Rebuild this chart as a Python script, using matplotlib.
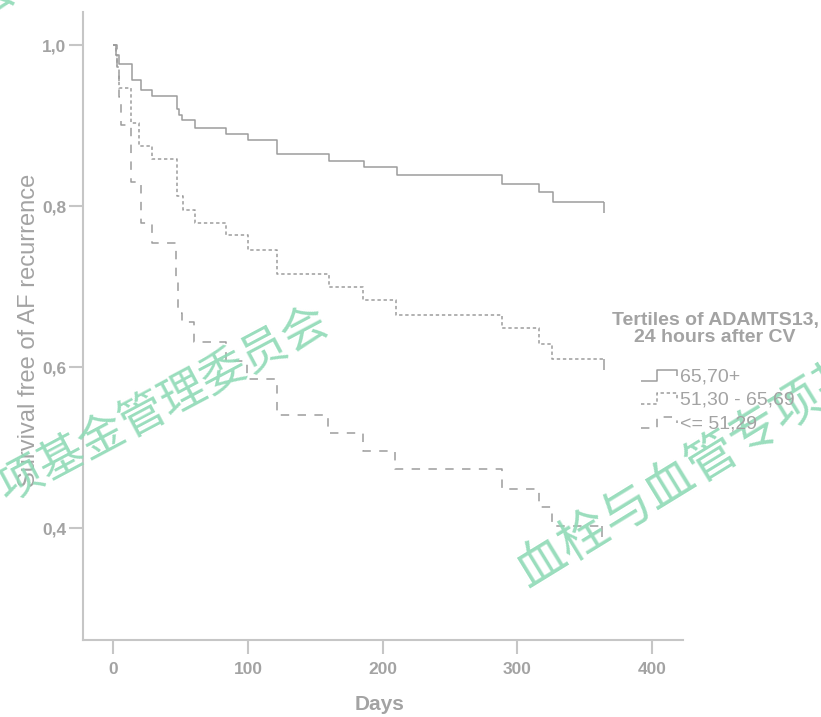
import matplotlib
matplotlib.use("Agg")
import matplotlib.pyplot as plt
from matplotlib.lines import Line2D
from matplotlib.legend_handler import HandlerBase

# --- Kaplan-Meier steps (days, survival) ---
hi_days = [0, 2, 4, 13.6, 20.3, 28.5, 47, 49, 51, 60.7, 83.7, 99.7, 121.8, 160.4, 186.4, 210.4, 288.8, 316.3, 326.7, 364]
hi_surv = [1.0, 0.988, 0.977, 0.957, 0.944, 0.937, 0.921, 0.913, 0.907, 0.897, 0.889, 0.882, 0.865, 0.856, 0.848, 0.838, 0.827, 0.817, 0.805, 0.805]

mid_days = [0, 2, 3, 4, 12.9, 19.3, 28.5, 47, 51.5, 60.7, 83.7, 99.7, 121.3, 160.4, 185.6, 209.8, 288.3, 316.3, 325.4, 364]
mid_surv = [1.0, 0.987, 0.973, 0.946, 0.903, 0.874, 0.859, 0.812, 0.795, 0.779, 0.764, 0.746, 0.716, 0.699, 0.683, 0.665, 0.648, 0.629, 0.610, 0.610]

low_days = [0, 3, 4, 5.5, 12.9, 20.5, 28.5, 46.6, 48.3, 51, 60, 83.7, 99, 121.3, 159.6, 185.6, 209.1, 288.3, 316.3, 325.4, 363]
low_surv = [1.0, 0.967, 0.935, 0.901, 0.830, 0.779, 0.754, 0.706, 0.667, 0.656, 0.631, 0.607, 0.585, 0.540, 0.518, 0.496, 0.473, 0.449, 0.426, 0.402, 0.402]

labels = ["65,70+", "51,30 - 65,69", "<= 51,29"]
legend_title = "Tertiles of ADAMTS13,\n24 hours after CV"
x_ticks = [0, 100, 200, 300, 400]
y_ticks = [0.4, 0.6, 0.8, 1.0]
y_ticklabels = ["0,4", "0,6", "0,8", "1,0"]
watermark = "血栓与血管专项基金管理委员会"

txt_grey = "#a3a3a3"
ax_grey = "#c6c6c6"
line_grey = "#9c9c9c"
wm_green = "#8fdab6"

plt.rcParams["font.family"] = ["Liberation Sans", "DejaVu Sans"]

fig = plt.figure(figsize=(8.21, 7.17), dpi=100)
ax = fig.add_axes([83 / 821, 1 - 640 / 717, 600 / 821, 628 / 717])

styles = [(0, ()), (0, (2.2, 1.8)), (0, (5.5, 5.5))]
series = [(hi_days, hi_surv), (mid_days, mid_surv), (low_days, low_surv)]
handles = []
for (d, s), ls, lab in zip(series, styles, labels):
    h, = ax.step(d, s, where="post", color=line_grey, lw=1.1, linestyle=ls, label=lab)
    handles.append(h)
    # censor tick at the end of follow-up
    ax.plot([d[-1]], [s[-1]], linestyle="none", color=line_grey,
            marker=[(0, 0), (0, -1)], markersize=16, markeredgewidth=1.1)

ax.set_xlim(-22.5, 423)
ax.set_ylim(0.261, 1.041)
ax.set_xticks(x_ticks)
ax.set_xticklabels([str(t) for t in x_ticks])
ax.set_yticks(y_ticks)
ax.set_yticklabels(y_ticklabels)

for sp in ["top", "right"]:
    ax.spines[sp].set_visible(False)
for sp in ["left", "bottom"]:
    ax.spines[sp].set_color(ax_grey)
    ax.spines[sp].set_linewidth(1.5)

ax.tick_params(axis="both", colors=ax_grey, width=1.5, length=10, labelcolor=txt_grey, labelsize=12.5)
ax.tick_params(axis="x", pad=6)
ax.tick_params(axis="y", pad=2)
for t in ax.get_xticklabels() + ax.get_yticklabels():
    t.set_fontweight("bold")
for t in ax.get_xticklabels():
    t.set_family(["Liberation Sans Narrow", "Liberation Sans"])

ax.set_xlabel("Days", color=txt_grey, fontsize=15, fontweight="bold")
ax.xaxis.set_label_coords((380 - 83) / 600, -(705 - 640) / 628)
ax.set_ylabel("Survival free of AF recurrence", color=txt_grey, fontsize=17)
ax.yaxis.set_label_coords(-(83 - 29) / 600, (640 - 330) / 628)
ax.xaxis.label.set_va("center")
ax.yaxis.label.set_va("center")


class StepHandler(HandlerBase):
    def create_artists(self, legend, orig_handle, xdescent, ydescent, width, height, fontsize, trans):
        x0, y0 = -xdescent, -ydescent
        lo, top = y0 + 0.05 * height, y0 + 0.85 * height
        xs = [x0, x0 + 0.45 * width, x0 + 0.45 * width, x0 + 0.97 * width, x0 + 0.97 * width]
        ys = [lo, lo, top, top, top - 0.45 * height]
        ln = Line2D(xs, ys)
        ln.update_from(orig_handle)
        ln.set_drawstyle("default")
        ln.set_transform(trans)
        return [ln]


fig.text(715 / 821, 1 - 329 / 717, legend_title, ha="center", va="center",
         color=txt_grey, fontsize=14, fontweight="bold", linespacing=1.0)
fig.legend(handles=handles, labels=labels, loc="upper left",
           bbox_to_anchor=(631 / 821, 1 - 358 / 717), frameon=False,
           handler_map={Line2D: StepHandler()}, handlelength=1.9, handletextpad=0.12,
           labelspacing=0.3, borderpad=0, fontsize=14, labelcolor=txt_grey)

# watermark
wm_font = ["Noto Sans CJK SC", "DejaVu Sans"]
fig.text(325 / 821, 1 - 318 / 717, watermark, ha="right", va="center", rotation=28,
         rotation_mode="anchor", color=wm_green, fontsize=33, family=wm_font, alpha=0.9)
fig.text(520 / 821, 1 - 575 / 717, watermark, ha="left", va="center", rotation=31.5,
         rotation_mode="anchor", color=wm_green, fontsize=36, family=wm_font, alpha=0.9)
fig.text(12 / 821, 1 + 14 / 717, watermark, ha="right", va="center", rotation=28,
         rotation_mode="anchor", color=wm_green, fontsize=33, family=wm_font, alpha=0.9)

fig.savefig("out.png", dpi=100)
